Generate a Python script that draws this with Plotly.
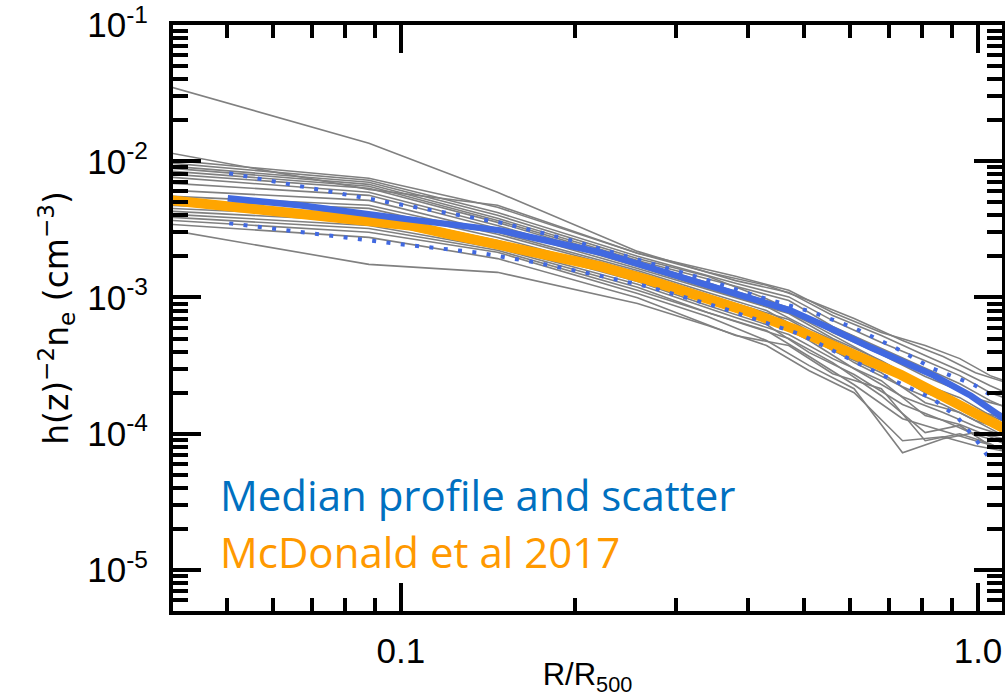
import plotly.graph_objects as go

# ---------------- data ----------------
x_grid_a = [0.04, 0.088, 0.147, 0.257, 0.38, 0.47, 0.56, 0.68, 0.81, 0.93, 1.05, 1.15]
x_grid_b = [0.04, 0.088, 0.147, 0.257, 0.34, 0.43, 0.51, 0.61, 0.74, 0.87, 0.99, 1.15]

profiles = [
    ("a", [0.0350, 0.01356, 5.92e-3, 2.18e-3, 1.33e-3, 1.09e-3, 7.37e-4, 5.26e-4, 3.75e-4, 2.90e-4, 2.25e-4, 1.90e-4]),
    ("a", [0.01145, 6.22e-3, 4.75e-3, 2.11e-3, 1.43e-3, 1.13e-3, 7.75e-4, 5.53e-4, 4.44e-4, 3.56e-4, 2.67e-4, 2.33e-4]),
    ("b", [0.01017, 7.50e-3, 4.59e-3, 2.11e-3, 1.53e-3, 1.23e-3, 9.50e-4, 7.00e-4, 4.83e-4, 3.69e-4, 2.80e-4, 2.29e-4]),
    ("a", [9.67e-3, 7.25e-3, 4.21e-3, 2.01e-3, 1.27e-3, 1.01e-3, 6.77e-4, 4.67e-4, 3.44e-4, 2.67e-4, 2.00e-4, 1.75e-4]),
    ("b", [9.19e-3, 7.01e-3, 4.01e-3, 1.93e-3, 1.43e-3, 9.79e-4, 7.00e-4, 5.17e-4, 3.33e-4, 2.45e-4, 1.81e-4, 1.53e-4]),
    ("a", [8.89e-3, 6.77e-3, 3.81e-3, 1.87e-3, 1.21e-3, 9.50e-4, 6.12e-4, 4.22e-4, 3.00e-4, 2.33e-4, 1.75e-4, 1.48e-4]),
    ("b", [8.45e-3, 6.55e-3, 3.68e-3, 1.81e-3, 1.29e-3, 9.18e-4, 6.54e-4, 4.37e-4, 2.80e-4, 2.00e-4, 1.48e-4, 1.25e-4]),
    ("a", [8.02e-3, 6.33e-3, 3.56e-3, 1.75e-3, 1.11e-3, 8.44e-4, 5.53e-4, 3.81e-4, 2.63e-4, 2.07e-4, 1.53e-4, 1.29e-4]),
    ("b", [7.63e-3, 5.92e-3, 3.38e-3, 1.69e-3, 1.17e-3, 8.58e-4, 5.91e-4, 4.08e-4, 2.53e-4, 1.81e-4, 1.34e-4, 1.09e-4]),
    ("a", [6.89e-3, 5.62e-3, 3.21e-3, 1.63e-3, 9.96e-4, 7.62e-4, 5.00e-4, 3.44e-4, 2.29e-4, 1.84e-4, 1.36e-4, 1.15e-4]),
    ("b", [6.12e-3, 5.16e-3, 3.01e-3, 1.58e-3, 1.09e-3, 8.02e-4, 5.35e-4, 3.33e-4, 2.21e-4, 1.64e-4, 1.25e-4, 1.02e-4]),
    ("a", [5.53e-3, 4.75e-3, 2.91e-3, 1.53e-3, 9.03e-4, 6.89e-4, 4.52e-4, 3.11e-4, 2.00e-4, 1.64e-4, 1.21e-4, 1.02e-4]),
    ("b", [5.16e-3, 4.51e-3, 2.76e-3, 1.45e-3, 9.79e-4, 7.00e-4, 4.83e-4, 3.00e-4, 1.87e-4, 1.43e-4, 1.13e-4, 9.20e-5]),
    ("a", [4.75e-3, 4.14e-3, 2.62e-3, 1.38e-3, 8.16e-4, 6.12e-4, 4.08e-4, 2.80e-4, 1.69e-4, 1.43e-4, 1.09e-4, 8.89e-5]),
    ("b", [4.51e-3, 3.88e-3, 2.49e-3, 1.31e-3, 8.73e-4, 6.33e-4, 3.94e-4, 2.72e-4, 1.64e-4, 1.25e-4, 9.84e-5, 8.17e-5]),
    ("a", [4.29e-3, 3.62e-3, 2.37e-3, 1.25e-3, 7.12e-4, 5.35e-4, 3.56e-4, 2.45e-4, 1.36e-4, 1.17e-4, 9.51e-5, 7.76e-5]),
    ("b", [4.08e-3, 3.38e-3, 2.30e-3, 1.19e-3, 7.75e-4, 5.72e-4, 3.69e-4, 2.29e-4, 1.29e-4, 1.05e-4, 8.89e-5, 7.50e-5]),
    ("a", [3.88e-3, 3.21e-3, 2.22e-3, 1.13e-3, 6.66e-4, 5.00e-4, 3.33e-4, 1.90e-4, 1.02e-4, 1.15e-4, 8.17e-5, 7.25e-5]),
    ("b", [3.68e-3, 3.01e-3, 2.15e-3, 1.07e-3, 7.25e-4, 4.83e-4, 3.16e-4, 2.14e-4, 7.25e-5, 9.20e-5, 1.02e-4, 8.89e-5]),
    ("a", [3.44e-3, 2.76e-3, 1.93e-3, 9.96e-4, 5.26e-4, 4.44e-4, 2.76e-4, 2.14e-4, 8.89e-5, 1.00e-4, 8.45e-5, 6.89e-5]),
    ("b", [3.11e-3, 1.75e-3, 1.53e-3, 9.03e-4, 6.22e-4, 4.44e-4, 2.90e-4, 2.00e-4, 8.89e-5, 9.51e-5, 8.17e-5, 7.25e-5]),
]

median_x = [0.0501, 0.0668, 0.1, 0.1486, 0.2215, 0.3305, 0.4735, 0.5556, 0.652, 0.839, 0.972, 1.11]
median_y = [5.35e-3, 4.75e-3, 3.81e-3, 3.11e-3, 2.14e-3, 1.27e-3, 8.02e-4, 5.92e-4, 4.29e-4, 2.67e-4, 1.90e-4, 1.29e-4]

upper_x = [0.0504, 0.0673, 0.1008, 0.151, 0.2004, 0.2653, 0.333, 0.415, 0.519, 0.614, 0.718, 0.835, 0.984, 1.083]
upper_y = [8.16e-3, 6.55e-3, 4.83e-3, 3.50e-3, 2.58e-3, 1.84e-3, 1.38e-3, 1.02e-3, 7.76e-4, 5.91e-4, 4.29e-4, 3.01e-4, 2.29e-4, 1.78e-4]

lower_x = [0.0504, 0.0673, 0.1008, 0.1355, 0.171, 0.2154, 0.2705, 0.320, 0.358, 0.493, 0.652, 0.839, 0.923, 0.992, 1.062]
lower_y = [3.50e-3, 3.01e-3, 2.45e-3, 2.14e-3, 1.81e-3, 1.48e-3, 1.19e-3, 9.66e-4, 8.44e-4, 5.35e-4, 2.96e-4, 1.78e-4, 1.31e-4, 9.04e-5, 6.02e-5]

mcdonald_x = [0.0395, 0.0547, 0.0668, 0.0815, 0.1036, 0.1216, 0.1486, 0.1815, 0.2215, 0.2705, 0.3305, 0.4036, 0.493, 0.602, 0.735, 0.898, 1.11]
mcdonald_y = [5.20e-3, 4.51e-3, 4.08e-3, 3.75e-3, 3.38e-3, 2.90e-3, 2.45e-3, 2.04e-3, 1.69e-3, 1.33e-3, 1.03e-3, 7.76e-4, 5.62e-4, 3.94e-4, 2.71e-4, 1.75e-4, 1.09e-4]

x_tick_vals = [0.1, 1.0]
x_tick_text = ["0.1", "1.0"]
x_minor_vals = [0.05, 0.06, 0.07, 0.08, 0.09, 0.2, 0.3, 0.4, 0.5, 0.6, 0.7, 0.8, 0.9]
y_tick_vals = [1e-5, 1e-4, 1e-3, 1e-2, 1e-1]
y_tick_text = ["10<sup>-5</sup>", "10<sup>-4</sup>", "10<sup>-3</sup>", "10<sup>-2</sup>", "10<sup>-1</sup>"]
y_minor_vals = [m * 10.0 ** e for e in range(-6, -1) for m in range(2, 10)]

legend_labels = ["Median profile and scatter", "McDonald et al 2017"]

# ---------------- figure ----------------
fig = go.Figure()

grids = {"a": x_grid_a, "b": x_grid_b}
for g, ys in profiles:
    fig.add_trace(go.Scatter(x=grids[g], y=ys, mode="lines",
                             line=dict(color="#808080", width=1.6),
                             showlegend=False, hoverinfo="skip"))

fig.add_trace(go.Scatter(x=mcdonald_x, y=mcdonald_y, mode="lines",
                         line=dict(color="#FFA500", width=10), showlegend=False))
fig.add_trace(go.Scatter(x=median_x, y=median_y, mode="lines",
                         line=dict(color="#4169E1", width=6.5), showlegend=False))
for xs, ys in [(upper_x, upper_y), (lower_x, lower_y)]:
    fig.add_trace(go.Scatter(x=xs, y=ys, mode="lines",
                             line=dict(color="#4169E1", width=4, dash="4px,10.4px"),
                             showlegend=False))

axis_font = dict(family="Liberation Sans, Arial, sans-serif", size=35, color="black")

fig.update_xaxes(
    type="log", range=[-1.395, 0.0416], automargin=False,
    tickmode="array", tickvals=x_tick_vals, ticktext=x_tick_text,
    ticks="inside", ticklen=28, tickwidth=3.5, tickcolor="black",
    minor=dict(tickmode="array", tickvals=x_minor_vals, ticks="inside",
               ticklen=13, tickwidth=3.5, tickcolor="black", showgrid=False),
    showline=True, linewidth=4, linecolor="black", mirror="ticks",
    showgrid=False, zeroline=False, tickfont=axis_font, ticklabelstandoff=6,
    title=dict(text="R/R<sub>500</sub>", font=dict(family="Liberation Sans, Arial, sans-serif", size=31, color="black"), standoff=12),
)
fig.update_yaxes(
    type="log", range=[-5.301, -1], automargin=False,
    tickmode="array", tickvals=y_tick_vals, ticktext=y_tick_text,
    ticks="inside", ticklen=28, tickwidth=3.5, tickcolor="black",
    minor=dict(tickmode="array", tickvals=y_minor_vals, ticks="inside",
               ticklen=15, tickwidth=3.5, tickcolor="black", showgrid=False),
    showline=True, linewidth=4, linecolor="black", mirror="ticks",
    showgrid=False, zeroline=False, tickfont=axis_font, ticklabelstandoff=14,
    title=dict(text="h(z)<sup>−2</sup>n<sub>e</sub> (cm<sup>−3</sup>)",
               font=dict(family="DejaVu Sans, sans-serif", size=33, color="black"), standoff=10),
)

fig.add_annotation(x=0.054, y=0.198, xref="paper", yref="paper", xanchor="left", yanchor="middle",
                   text=legend_labels[0], showarrow=False,
                   font=dict(family="Open Sans, sans-serif", size=42, color="#0070C0"))
fig.add_annotation(x=0.054, y=0.102, xref="paper", yref="paper", xanchor="left", yanchor="middle",
                   text=legend_labels[1], showarrow=False,
                   font=dict(family="Open Sans, sans-serif", size=42, color="#FF9900"))

fig.update_layout(
    width=1005, height=697,
    margin=dict(l=173, r=3, t=25, b=86),
    paper_bgcolor="white", plot_bgcolor="white",
    showlegend=False,
)

fig.write_html("out.html")
